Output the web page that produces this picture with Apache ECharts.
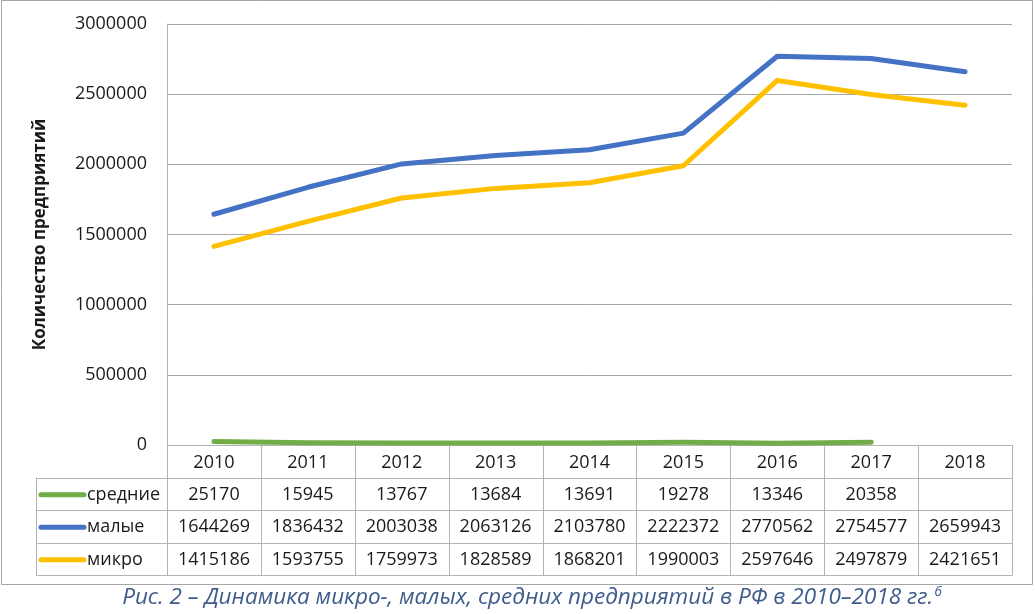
<!DOCTYPE html>
<html>
<head>
<meta charset="utf-8">
<script src="https://cdn.jsdelivr.net/npm/echarts@6/dist/echarts.min.js"></script>
<style>
html,body{margin:0;padding:0;background:#fff;}
#c{width:1035px;height:614px;}
</style>
</head>
<body>
<div id="c"></div>
<script>
const years = ['2010','2011','2012','2013','2014','2015','2016','2017','2018'];
const srednie = [25170,15945,13767,13684,13691,19278,13346,20358,null];
const malye = [1644269,1836432,2003038,2063126,2103780,2222372,2770562,2754577,2659943];
const mikro = [1415186,1593755,1759973,1828589,1868201,1990003,2597646,2497879,2421651];
const seriesNames = ['средние','малые','микро'];
const seriesColors = ['#70AD47','#4472C4','#FFC000'];
const seriesData = [srednie, malye, mikro];
const yMin = 0, yMax = 3000000, yStep = 500000;
const yTitle = 'Количество предприятий';
const caption = 'Рис. 2 – Динамика микро-, малых, средних предприятий в РФ в 2010–2018 гг.';

const FONT = '"Open Sans", "Noto Sans", sans-serif';
const chart = echarts.init(document.getElementById('c'), null, {renderer:'canvas'});

const L = 167, R = 1012, T = 24, B = 445;
const rowTops = [445, 477.5, 510, 542.5, 575];
const legendLeft = 36;
const gridColor = '#b4b4b4';

function fmt(v){ return v == null ? '' : String(v); }

function buildGraphic(){
  const g = [];
  const colW = (R - L) / years.length;
  g.push({type:'rect', shape:{x:1.5,y:0.5,width:1031,height:584}, style:{fill:'none', stroke:'#a6a6a6', lineWidth:1}, silent:true});
  for (let k = 0; k <= years.length; k++) {
    const x = Math.round(L + k*colW) + 0.5;
    g.push({type:'line', shape:{x1:x,y1:rowTops[0],x2:x,y2:rowTops[4]}, style:{stroke:gridColor, lineWidth:1}, silent:true});
  }
  g.push({type:'line', shape:{x1:legendLeft+0.5,y1:rowTops[1],x2:legendLeft+0.5,y2:rowTops[4]}, style:{stroke:gridColor, lineWidth:1}, silent:true});
  for (let r = 1; r < rowTops.length; r++) {
    const y = Math.round(rowTops[r]) + 0.5;
    g.push({type:'line', shape:{x1:legendLeft,y1:y,x2:R+0.5,y2:y}, style:{stroke:gridColor, lineWidth:1}, silent:true});
  }
  for (let s = 0; s < seriesData.length; s++) {
    const yc = (rowTops[s+1] + rowTops[s+2]) / 2 + 1;
    g.push({type:'line', shape:{x1:41,y1:yc,x2:84,y2:yc}, style:{stroke:seriesColors[s], lineWidth:5, lineCap:'round'}, silent:true});
    g.push({type:'text', x:87, y:yc, style:{text:seriesNames[s], font:'18px '+FONT, fill:'#1a1a1a', textAlign:'left', textVerticalAlign:'middle'}, silent:true});
    for (let i = 0; i < years.length; i++) {
      const xc = chart.convertToPixel({xAxisIndex:0}, years[i]);
      g.push({type:'text', x:xc, y:yc, style:{text:fmt(seriesData[s][i]), font:'18px '+FONT, fill:'#1a1a1a', textAlign:'center', textVerticalAlign:'middle'}, silent:true});
    }
  }
  g.push({type:'text', x:532, y:598, style:{rich:{
      a:{font:'italic 22.5px '+FONT, fill:'#3e5c8c'},
      s:{font:'italic 14px '+FONT, fill:'#3e5c8c', verticalAlign:'top', padding:[0,0,12,1]}
    }, text:'{a|'+caption+'}{s|6}', textAlign:'center', textVerticalAlign:'middle'}, silent:true});
  return g;
}

chart.setOption({
  animation:false,
  grid:{left:L, right:1035-R, top:T, bottom:614-B, containLabel:false},
  xAxis:{type:'category', data:years, boundaryGap:true,
    axisLine:{show:true, lineStyle:{color:gridColor, width:1}},
    axisTick:{show:false},
    axisLabel:{margin:9, fontFamily:FONT, fontSize:18, color:'#1a1a1a'}
  },
  yAxis:{type:'value', min:yMin, max:yMax, interval:yStep,
    name:yTitle, nameLocation:'middle', nameGap:118, nameRotate:90,
    nameTextStyle:{fontFamily:FONT, fontSize:17, fontWeight:'bold', color:'#1a1a1a'},
    axisLine:{show:true, lineStyle:{color:gridColor, width:1}},
    axisTick:{show:false},
    axisLabel:{margin:20, fontFamily:FONT, fontSize:18, color:'#1a1a1a', formatter:function(v){return String(v);}},
    splitLine:{show:true, lineStyle:{color:'#a6a6a6', width:1}}
  },
  series: seriesData.map((d, s) => ({
    name:seriesNames[s], type:'line', data:d, symbol:'none', connectNulls:false,
    lineStyle:{color:seriesColors[s], width:5, cap:'round', join:'round'},
    itemStyle:{color:seriesColors[s]}, z: s===0?5:(s===1?4:3)
  }))
});
chart.setOption({graphic: buildGraphic()});
</script>
</body>
</html>
